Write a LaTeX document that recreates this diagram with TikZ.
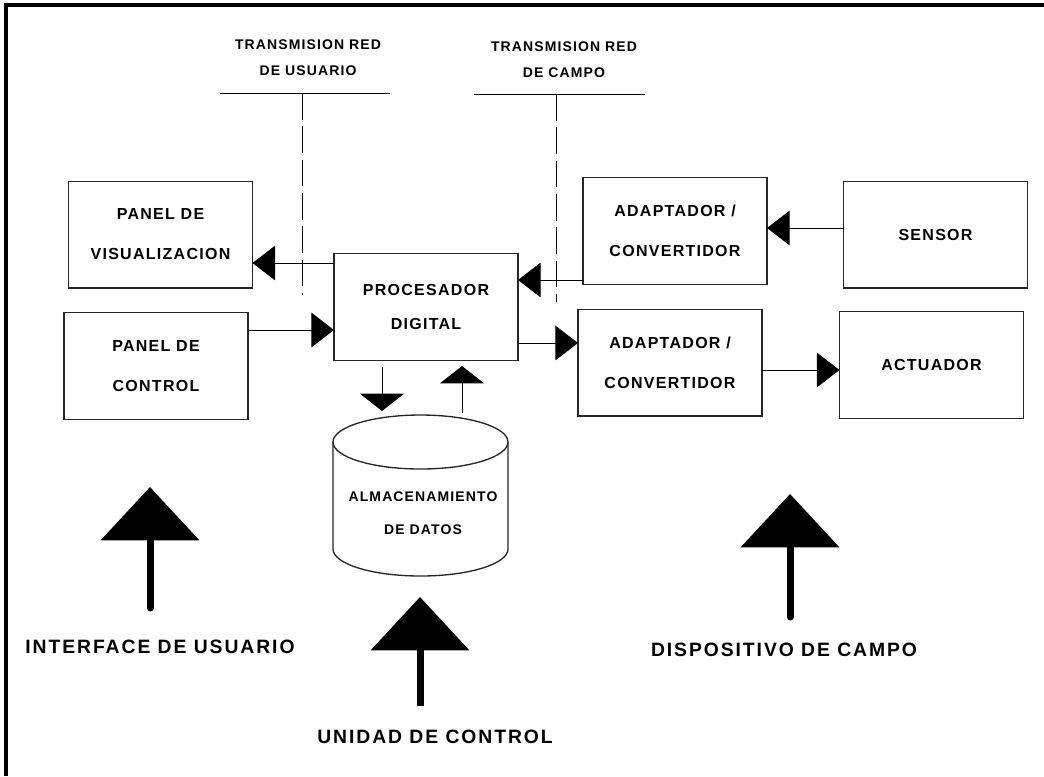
\documentclass[tikz,border=0pt]{standalone}
\usepackage{fontspec}
\setmainfont{Liberation Sans}
\newfontfamily\etq{Liberation Sans}[LetterSpace=8]
\newfontfamily\etqg{Liberation Sans}[LetterSpace=10]
\usetikzlibrary{arrows.meta}

\tikzset{every picture/.style={line width=0.75pt}}

\begin{document}
\begin{tikzpicture}[x=0.75pt,y=0.75pt,yscale=-1,xscale=1,
  bloque/.style={draw=black!85, line width=1pt, minimum width=138pt, minimum height=80pt, inner sep=0pt, outer sep=0pt, align=center, font=\etq\bfseries\fontsize{12}{30}\selectfont},
  rotulo/.style={inner sep=0.75pt, align=center, font=\etq\bfseries\fontsize{10.5}{19.5}\selectfont},
  titulo/.style={inner sep=0.75pt, font=\etqg\bfseries\fontsize{14.5}{17}\selectfont},
  flecha/.style={-{Triangle[length=17pt,width=26pt]}},
  flechac/.style={-{Triangle[length=13pt,width=33pt]}},
  grande/.style={line width=5.25pt, -{Triangle[length=40pt,width=73pt]}},
  red/.style={dash pattern=on 20pt off 5pt}]
\useasboundingbox (0,0) rectangle (1044,776);

%Frame
\draw [line width=2.5pt] (6,776) -- (6,5) -- (1044,5) ;

%Flowchart: Process
\node [bloque] (vis) at (160.5,234.5) {PANEL DE\\VISUALIZACION};
\node [bloque] (ctrl) at (156,366) {PANEL DE\\CONTROL};
\node [bloque] (proc) at (426,307) [font=\etq\bfseries\fontsize{12}{25.5}\selectfont] {PROCESADOR\\DIGITAL};
\node [bloque] (adapa) at (675,231) {ADAPTADOR /\\CONVERTIDOR};
\node [bloque] (sens) at (935.5,234.5) {SENSOR};
\node [bloque] (adapb) at (670,362.5) {ADAPTADOR /\\CONVERTIDOR};
\node [bloque] (act) at (931.5,365) {ACTUADOR};

%Cylinder
\draw [line width=1pt, draw=black!85] (333,442) -- (333,549) arc [start angle=180, end angle=0, x radius=87.5, y radius=27] -- (508,442) ;
\draw [line width=1pt, draw=black!85] (420.5,442) ellipse [x radius=87.5, y radius=27] ;
\node [rotulo, font=\etq\bfseries\fontsize{10.5}{25}\selectfont] (alm) at (423,513) {ALMACENAMIENTO\\DE DATOS};

%Connector heights
\coordinate (cv) at (0,263);
\coordinate (cc) at (0,330);
\coordinate (ca) at (0,280);
\coordinate (cs) at (0,228);
\coordinate (cb) at (0,343);
\coordinate (ct) at (0,370);

%Straight Lines
\draw [flecha] (proc.west |- cv) -- (vis.east |- cv) ;
\draw [flecha] (ctrl.east |- cc) -- (proc.west |- cc) ;
\draw [flecha] (adapa.west |- ca) -- (proc.east |- ca) ;
\draw [flecha] (sens.west |- cs) -- (adapa.east |- cs) ;
\draw [flecha] (proc.east |- cb) -- (adapb.west |- cb) ;
\draw [flecha] (adapb.east |- ct) -- (act.west |- ct) ;

%Storage arrows
\coordinate (bajaa) at (382,367);
\coordinate (bajab) at (382,411);
\coordinate (subea) at (462,413);
\coordinate (subeb) at (462,366);
\draw [flechac] (bajaa) -- (bajab) ;
\draw [flechac] (subea) -- (subeb) ;

%Network lines
\node [rotulo] (tru) at (308,58) {TRANSMISION RED\\DE USUARIO};
\coordinate (rua) at (220,93);
\coordinate (rub) at (390,93);
\coordinate (ruc) at (302,93);
\coordinate (rud) at (302,295);
\draw (rua) -- (rub) ;
\draw [red] (ruc) -- (rud) ;

\node [rotulo] (trc) at (564,60) {TRANSMISION RED\\DE CAMPO};
\coordinate (rca) at (474,94);
\coordinate (rcb) at (645,94);
\coordinate (rcc) at (556,94);
\coordinate (rcd) at (556,302);
\draw (rca) -- (rcb) ;
\draw [red] (rcc) -- (rcd) ;

%Group arrows
\node [titulo] (iu) at (160,647) {INTERFACE DE USUARIO};
\node [titulo] (uc) at (435,737) {UNIDAD DE CONTROL};
\node [titulo] (dc) at (784,650) {DISPOSITIVO DE CAMPO};
\coordinate (iua) at (150,608);
\coordinate (iub) at (150,487);
\coordinate (uca) at (420,706);
\coordinate (ucb) at (420,597);
\coordinate (dca) at (790,617);
\coordinate (dcb) at (790,494);
\draw [grande, line cap=round] (iua) -- (iub) ;
\draw [grande] (uca) -- (ucb) ;
\draw [grande, line cap=round] (dca) -- (dcb) ;

\end{tikzpicture}
\end{document}
